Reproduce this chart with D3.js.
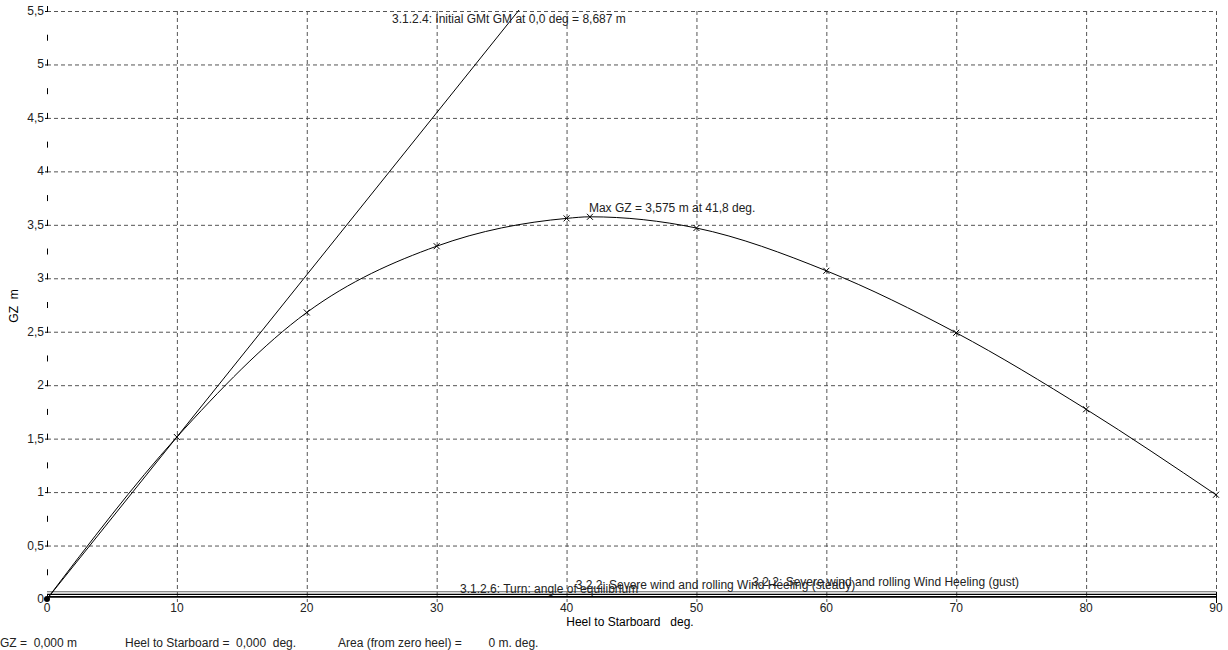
<!DOCTYPE html>
<html>
<head>
<meta charset="utf-8">
<script src="https://cdn.jsdelivr.net/npm/d3@7"></script>
<style>
  body { margin: 0; background: #fff; }
  svg { display: block; font-family: Arial, "Liberation Sans", sans-serif; }
</style>
</head>
<body>
<svg id="chart" width="1228" height="650"></svg>
<script>
// GZ curve, heel angle in deg / righting lever in m
const heelAngles = [0, 10, 20, 30, 40, 41.8, 50, 60, 70, 80, 90]
const gzValues = [0, 1.515, 2.68, 3.30, 3.56, 3.575, 3.47, 3.07, 2.49, 1.775, 0.975]

const xTicks = [0, 10, 20, 30, 40, 50, 60, 70, 80, 90]
const xTickLabels = ['0', '10', '20', '30', '40', '50', '60', '70', '80', '90']
const yTicks = [0, 0.5, 1, 1.5, 2, 2.5, 3, 3.5, 4, 4.5, 5, 5.5]
const yTickLabels = ['0', '0,5', '1', '1,5', '2', '2,5', '3', '3,5', '4', '4,5', '5', '5,5']
const yMinorTicks = [0.25, 0.75, 1.25, 1.75, 2.25, 2.75, 3.25, 3.75, 4.25, 4.75, 5.25]

// initial GMt line, reaches GM at 1 rad
const gmValue = 8.687
const gmLine = [[0, 0], [57.3, 8.687]]

// heeling arm lines
const heelingNames = ['gust', 'steady', 'turn']
const heelingArms = [0.068, 0.044, 0.02]
const heelingLabels = [
  '3.2.2: Severe wind and rolling Wind Heeling (gust)',
  '3.2.2: Severe wind and rolling Wind Heeling (steady)',
  '3.1.2.6: Turn: angle of equilibrium'
]
const heelingLabelAt = [[54.3, 0.12], [40.7, 0.095], [31.8, 0.057]]

const svg = d3.select('#chart')
const plotLeft = 47
const plotRight = 1216
const plotTop = 11
const plotBottom = 599

const x = d3.scaleLinear().domain([0, 90]).range([plotLeft, plotRight])
const y = d3.scaleLinear().domain([0, 5.5]).range([plotBottom, plotTop])

svg.append('clipPath').attr('id', 'plot-clip')
  .append('rect')
  .attr('x', plotLeft).attr('y', plotTop - 1)
  .attr('width', plotRight - plotLeft + 1).attr('height', plotBottom - plotTop + 2)

// grid
svg.append('g').selectAll('line')
  .data(yTicks.filter(d => d > 0))
  .enter().append('line')
  .attr('x1', plotLeft).attr('x2', plotRight)
  .attr('y1', d => y(d) + 0.5).attr('y2', d => y(d) + 0.5)
  .attr('stroke', '#555').attr('stroke-dasharray', '4,3')

svg.append('g').selectAll('line')
  .data(xTicks.filter(d => d > 0))
  .enter().append('line')
  .attr('x1', d => x(d) + 0.5).attr('x2', d => x(d) + 0.5)
  .attr('y1', plotTop).attr('y2', plotBottom + 3)
  .attr('stroke', '#555').attr('stroke-dasharray', '4,3')

// y axis ticks
svg.append('g').selectAll('line')
  .data(yTicks)
  .enter().append('line')
  .attr('x1', plotLeft + 0.5).attr('x2', plotLeft + 0.5)
  .attr('y1', d => y(d) - 5).attr('y2', d => y(d) + 1)
  .attr('stroke', '#000')

svg.append('g').selectAll('line')
  .data(yTicks.slice(1))
  .enter().append('line')
  .attr('x1', plotLeft - 2).attr('x2', plotLeft + 1)
  .attr('y1', d => y(d) + 0.5).attr('y2', d => y(d) + 0.5)
  .attr('stroke', '#000')

svg.append('g').selectAll('line')
  .data(yMinorTicks)
  .enter().append('line')
  .attr('x1', plotLeft + 0.5).attr('x2', plotLeft + 0.5)
  .attr('y1', d => y(d) - 3).attr('y2', d => y(d) + 3)
  .attr('stroke', '#000')

svg.append('g').selectAll('text')
  .data(yTicks)
  .enter().append('text')
  .attr('x', plotLeft - 3)
  .attr('y', d => y(d) + 4)
  .attr('text-anchor', 'end')
  .attr('font-size', 12)
  .attr('fill', '#222')
  .text((d, i) => yTickLabels[i])

// x axis labels
svg.append('g').selectAll('text')
  .data(xTicks)
  .enter().append('text')
  .attr('x', d => x(d))
  .attr('y', plotBottom + 13)
  .attr('text-anchor', 'middle')
  .attr('font-size', 12)
  .attr('fill', '#222')
  .text((d, i) => xTickLabels[i])

svg.append('line')
  .attr('x1', x(90) + 0.5).attr('x2', x(90) + 0.5)
  .attr('y1', y(0.068)).attr('y2', plotBottom + 4)
  .attr('stroke', '#000')

svg.append('text')
  .attr('x', 630).attr('y', plotBottom + 27)
  .attr('text-anchor', 'middle')
  .attr('font-size', 12)
  .attr('xml:space', 'preserve')
  .text('Heel to Starboard   deg.')

svg.append('text')
  .attr('transform', 'translate(18,' + 306 + ') rotate(-90)')
  .attr('text-anchor', 'middle')
  .attr('font-size', 12)
  .attr('xml:space', 'preserve')
  .text('GZ  m')

const plot = svg.append('g').attr('clip-path', 'url(#plot-clip)')

// heeling arms
plot.selectAll('.arm')
  .data(heelingArms)
  .enter().append('line')
  .attr('class', 'arm')
  .attr('x1', x(0)).attr('x2', x(90))
  .attr('y1', d => y(d)).attr('y2', d => y(d))
  .attr('stroke', (d, i) => i === 0 ? '#666' : '#000')
  .attr('stroke-width', (d, i) => i === 2 ? 1.6 : 1.2)

svg.append('g').selectAll('text')
  .data(heelingLabels)
  .enter().append('text')
  .attr('x', (d, i) => x(heelingLabelAt[i][0]))
  .attr('y', (d, i) => y(heelingLabelAt[i][1]))
  .attr('font-size', 12)
  .attr('fill', '#222')
  .text(d => d)

// initial GM line
plot.append('path')
  .datum(gmLine)
  .attr('d', d3.line().x(d => x(d[0])).y(d => y(d[1])))
  .attr('fill', 'none')
  .attr('stroke', '#000')
  .attr('stroke-width', 1)

svg.append('text')
  .attr('x', 392).attr('y', 23)
  .attr('font-size', 12)
  .attr('fill', '#222')
  .text('3.1.2.4: Initial GMt GM at 0,0 deg = ' + String(gmValue).replace('.', ',') + ' m')

// GZ curve
const gzData = heelAngles.map((a, i) => ({ a: a, gz: gzValues[i] }))

plot.append('path')
  .datum(gzData)
  .attr('d', d3.line().curve(d3.curveMonotoneX).x(d => x(d.a)).y(d => y(d.gz)))
  .attr('fill', 'none')
  .attr('stroke', '#000')
  .attr('stroke-width', 1)

svg.append('g').selectAll('path')
  .data(gzData.slice(1))
  .enter().append('path')
  .attr('d', d => {
    const px = x(d.a)
    const py = y(d.gz)
    return 'M' + (px - 3) + ',' + (py - 3) + 'L' + (px + 3) + ',' + (py + 3) +
      'M' + (px - 3) + ',' + (py + 3) + 'L' + (px + 3) + ',' + (py - 3)
  })
  .attr('stroke', '#000')
  .attr('stroke-width', 1)

svg.append('circle')
  .attr('cx', x(0)).attr('cy', y(0)).attr('r', 3)
  .attr('fill', '#000')

svg.append('text')
  .attr('x', x(41.8) - 1).attr('y', y(3.575) - 5)
  .attr('font-size', 12)
  .attr('fill', '#222')
  .text('Max GZ = 3,575 m at 41,8 deg.')

// status line
const status = svg.append('g').attr('font-size', 12).attr('fill', '#222')
status.append('text').attr('x', 0).attr('y', 647).attr('xml:space', 'preserve').text('GZ =  0,000 m')
status.append('text').attr('x', 125).attr('y', 647).attr('xml:space', 'preserve').text('Heel to Starboard =  0,000  deg.')
status.append('text').attr('x', 338).attr('y', 647).attr('xml:space', 'preserve').text('Area (from zero heel) =        0 m. deg.')
</script>
</body>
</html>
